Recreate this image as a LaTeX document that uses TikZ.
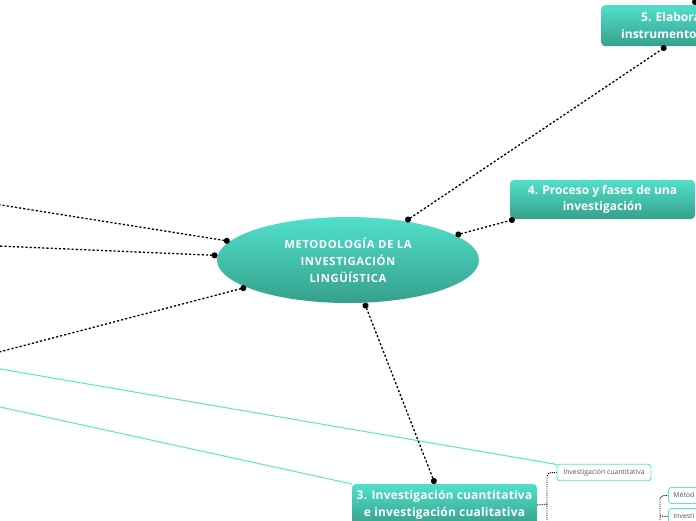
\documentclass[tikz,border=0pt]{standalone}
\usepackage{fontspec}
\setmainfont{Open Sans}
\usetikzlibrary{shapes.geometric,arrows.meta}
\definecolor{gtop}{HTML}{50E0CA}
\definecolor{gbot}{HTML}{36A08C}
\definecolor{cyanline}{HTML}{5CE3D3}
\definecolor{txtgray}{HTML}{555555}
\begin{document}
\begin{tikzpicture}[x=1pt,y=-1pt,
  topicbox/.style={draw=none, rounded corners=4pt, top color=gtop, bottom color=gbot,
    text=white, align=center, inner sep=0pt},
  wtext/.style={text=white, inner sep=0pt, font=\bfseries\fontsize{12}{16}\selectfont},
  subbox/.style={draw=cyanline, line width=0.9pt, rounded corners=3pt, fill=white,
    text=txtgray, inner sep=0pt, font=\fontsize{6.9}{8}\selectfont},
  dotcon/.style={draw=black, line width=1.3pt, dash pattern=on 2.2pt off 2pt,
    {Circle[length=6pt]}-{Circle[length=6pt]}},
  dotfree/.style={draw=black, line width=1.3pt, dash pattern=on 2.2pt off 2pt,
    {Circle[length=6pt]}-},
  subcon/.style={draw=black, line width=0.9pt, dash pattern=on 1.1pt off 1.1pt, rounded corners=4pt},
  cyanl/.style={draw=cyanline, line width=1pt}
]
\useasboundingbox (0,0) rectangle (696,520);
\clip (0,0) rectangle (696,520);

% off-canvas ends
\coordinate (L1) at (-100,189);
\coordinate (L2) at (-100,241.8);
\coordinate (L3) at (-100,378);
\coordinate (C1) at (-100,351.8);
\coordinate (C2) at (-100,385.1);
\coordinate (T5) at (695,-20);
\coordinate (J1) at (547,504);
\coordinate (J1d) at (547,540);
\coordinate (J2) at (660,540);
\coordinate (J2m) at (660,516);

% cyan lines
\draw[cyanl] (C1) -- (557,464.5) coordinate (cqnw);
\draw[cyanl] (C2) -- (352,484) coordinate (n3nw);

% central ellipse
\node[ellipse, minimum width=262pt, minimum height=86pt, inner sep=0pt,
  top color=gtop, bottom color=gbot, text=white, align=center,
  font=\bfseries\fontsize{11.3}{17}\selectfont\addfontfeature{LetterSpace=5}]
  (ell) at (348,260) {METODOLOGÍA DE LA\\INVESTIGACIÓN\\LINGÜÍSTICA};

% node 4
\node[topicbox, minimum width=185pt, minimum height=39pt,
  font=\bfseries\fontsize{12}{16}\selectfont] (n4) at (602.5,199.5)
  {4. Proceso y fases de una\\investigación};

% node 5 (cut by the edge)
\node[topicbox, minimum width=130pt, minimum height=41pt, anchor=north west] (n5) at (601,5) {};
\node[wtext, anchor=base west] (n5a) at (641,21.5) {5. Elabora};
\node[wtext, anchor=base west] (n5b) at (621,38.5) {instrumento};

% node 3
\node[topicbox, minimum width=185pt, minimum height=42pt,
  font=\bfseries\fontsize{12}{17}\selectfont\addfontfeature{LetterSpace=1.5}] (n3) at (444.5,505)
  {3. Investigación cuantitativa\\e investigación cualitativa};

% sub nodes
\node[subbox, minimum width=94pt, minimum height=16.5pt] (cq) at (604,472.5) {Investigación cuantitativa};
\node[subbox, minimum width=50pt, minimum height=16pt, anchor=north west] (m1) at (668,487) {};
\node[subbox, anchor=west, fill=none, draw=none] (m1t) at (673,495) {Métod};
\node[subbox, minimum width=50pt, minimum height=16pt, anchor=north west] (m2) at (668,508) {};
\node[subbox, anchor=west, fill=none, draw=none] (m2t) at (673,516) {Investi};

% main dotted connectors
\draw[dotcon] (ell.34) -- (n5.south);
\draw[dotcon] (ell.13) -- ([xshift=5pt]n4.south west);
\draw[dotcon] (ell.-69) -- ([xshift=-9.5pt]n3.north);
\draw[dotfree] (ell.171) -- (L1);
\draw[dotfree] (ell.178) -- (L2);
\draw[dotfree] (ell.195) -- (L3);
\draw[dotfree] ([xshift=94pt]n5.north west) -- (T5);

% sub connectors
\draw[subcon] (n3.east) -- (J1);
\draw[subcon] (J1d) -- (J1) |- (cq.west);
\draw[subcon] (J2) |- (m1.west);
\draw[subcon] (J2m) -- (m2.west);
\end{tikzpicture}
\end{document}
